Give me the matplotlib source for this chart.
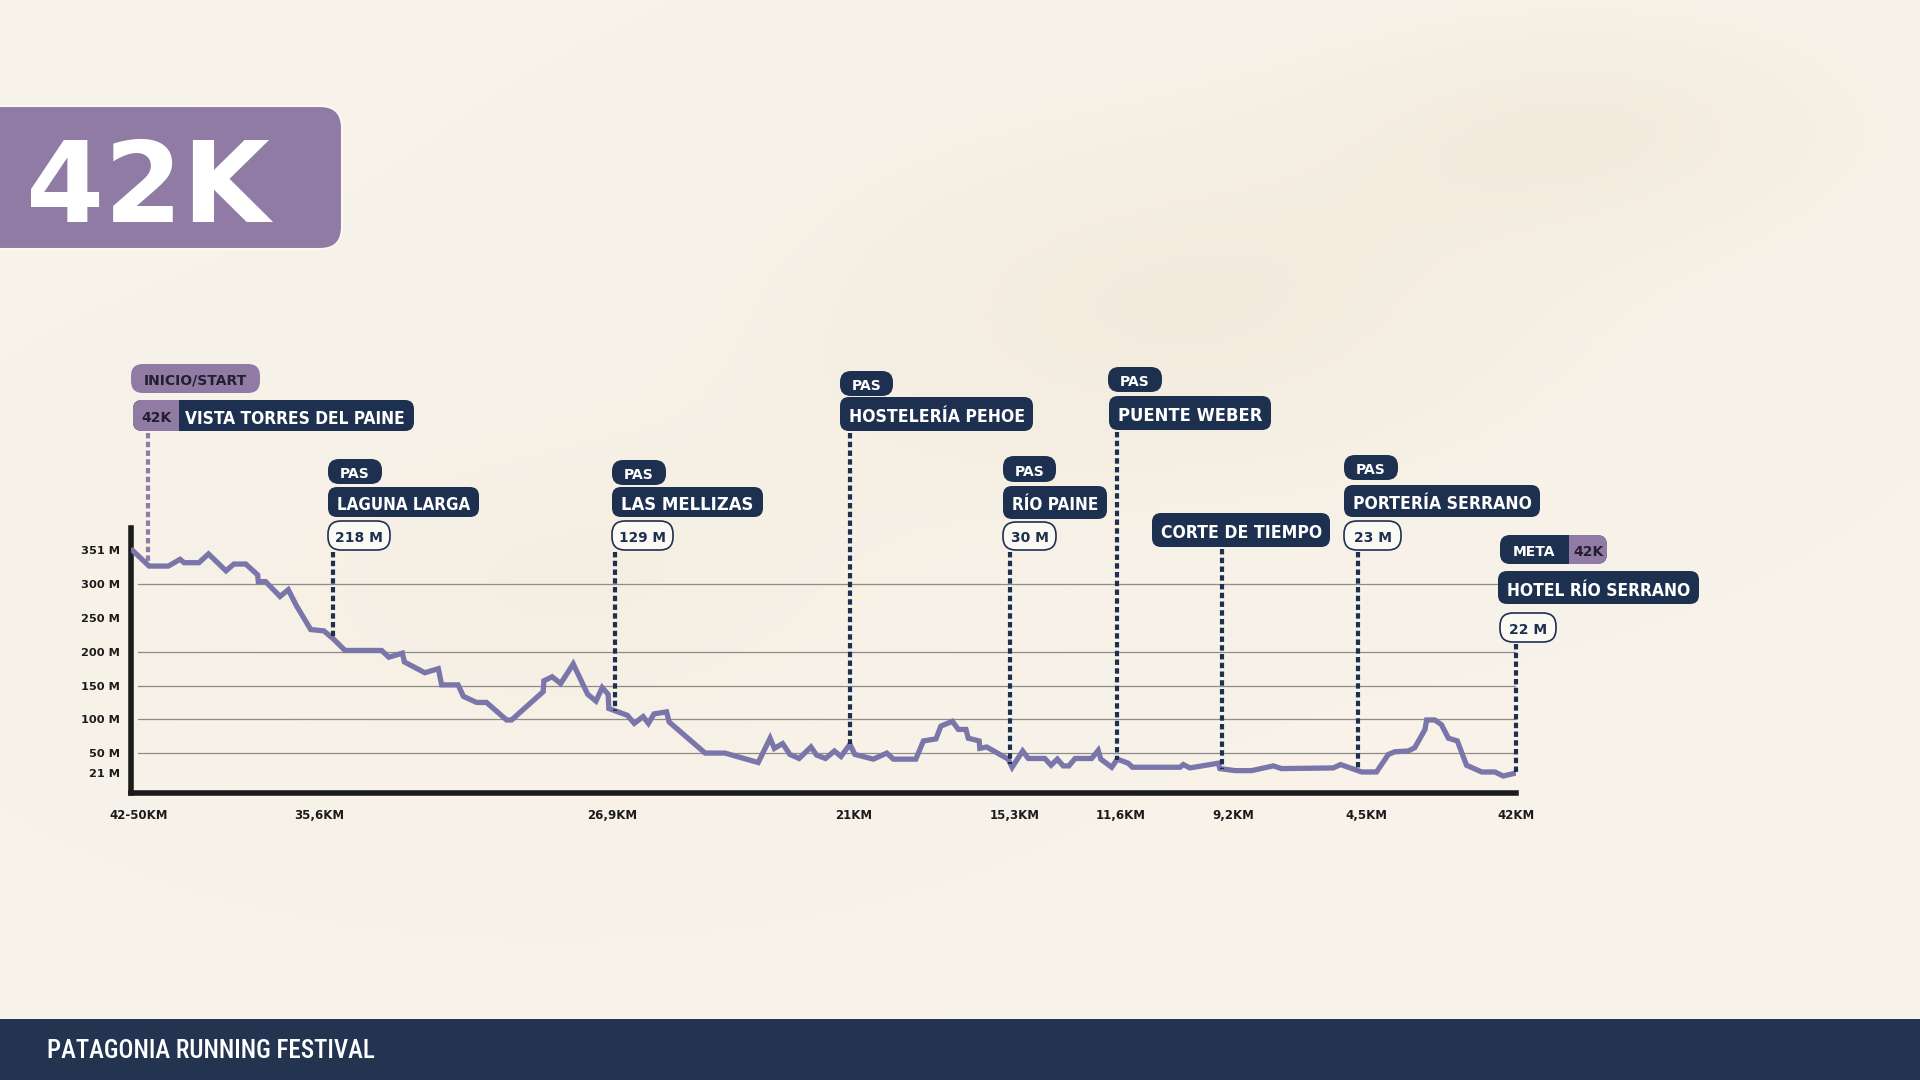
import os
import matplotlib
matplotlib.use("Agg")
import matplotlib.pyplot as plt
import numpy as np
from matplotlib import font_manager as fm
from matplotlib.patches import FancyBboxPatch, Rectangle

# elevation profile (km along course, metres)
km_pts = [0.05, 0.55, 1.13, 1.49, 1.61, 2.06, 2.35, 2.88, 3.12, 3.48,
          3.84, 3.86, 4.08, 4.52, 4.77, 5.02, 5.45, 5.85, 6.14, 6.49,
          7.60, 7.82, 8.23, 8.29, 8.91, 9.32, 9.42, 9.92, 10.08, 10.48,
          10.78, 11.39, 11.54, 12.50, 12.52, 12.77, 13.03, 13.41, 13.85, 14.10,
          14.29, 14.47, 14.49, 15.05, 15.26, 15.53, 15.69, 15.86, 16.24, 16.32,
          17.41, 18.01, 19.02, 19.38, 19.51, 19.76, 19.98, 20.26, 20.62, 20.79,
          21.06, 21.33, 21.53, 21.80, 21.95, 22.51, 22.92, 23.12, 23.80, 24.03,
          24.41, 24.56, 24.91, 25.09, 25.32, 25.39, 25.72, 25.74, 25.95, 26.60,
          26.72, 27.04, 27.21, 27.71, 27.90, 28.09, 28.27, 28.44, 28.63, 29.13,
          29.33, 29.41, 29.74, 29.91, 30.24, 30.37, 31.81, 31.91, 32.11, 32.97,
          33.02, 33.48, 33.98, 34.64, 34.89, 36.46, 36.68, 37.32, 37.77, 38.13,
          38.33, 38.73, 38.93, 39.24, 39.29, 39.54, 39.74, 39.95, 40.22, 40.50,
          40.96, 41.36, 41.61, 41.96]
elev = [350, 327, 327, 337, 332, 332, 345, 320, 330, 330,
        314, 304, 304, 282, 292, 268, 233, 231, 219, 202,
        202, 192, 198, 185, 169, 175, 151, 151, 134, 125,
        125, 99, 99, 141, 157, 163, 153, 182, 137, 127,
        147, 137, 116, 106, 94, 104, 94, 108, 111, 96,
        50, 50, 36, 72, 57, 64, 48, 42, 59, 47,
        42, 53, 45, 63, 48, 41, 50, 41, 41, 68,
        71, 90, 97, 85, 85, 72, 68, 57, 59, 41,
        29, 53, 42, 42, 32, 41, 31, 31, 42, 42,
        54, 41, 29, 41, 35, 29, 29, 33, 28, 35,
        27, 24, 24, 31, 27, 28, 33, 22, 22, 48,
        52, 53, 58, 85, 99, 99, 92, 72, 68, 32,
        22, 22, 16, 20]

ytick_vals = [21, 50, 100, 150, 200, 250, 300, 351]
ytick_labels = ["21 M", "50 M", "100 M", "150 M", "200 M", "250 M", "300 M", "351 M"]
grid_vals = [50, 100, 150, 200, 300]

xtick_km = [0.22, 5.72, 14.59, 21.91, 26.81, 30.0, 33.42, 37.46, 42.0]
xtick_labels = ["42-50KM", "35,6KM", "26,9KM", "21KM", "15,3KM", "11,6KM",
                "9,2KM", "4,5KM", "42KM"]

# checkpoints
cp_names = ["VISTA TORRES DEL PAINE", "LAGUNA LARGA", "LAS MELLIZAS",
            "HOSTELERÍA PEHOE", "RÍO PAINE", "PUENTE WEBER",
            "CORTE DE TIEMPO", "PORTERÍA SERRANO", "HOTEL RÍO SERRANO"]
cp_km = [0.52, 6.14, 14.69, 21.80, 26.67, 29.89, 33.08, 37.20, 42.0]
cp_tag = ["INICIO/START", "PAS", "PAS", "PAS", "PAS", "PAS", None, "PAS", "META"]
cp_alt = [None, "218 M", "129 M", None, "30 M", None, None, "23 M", "22 M"]

# pixel layout of the callouts: tag box, name box, altitude pill
layout = [
    ((131, 364, 129, 29), (133, 400, 281, 31), None),
    ((328, 459, 54, 25), (328, 487, 151, 30), (328, 521, 62, 29)),
    ((612, 460, 54, 25), (612, 487, 151, 30), (612, 521, 61, 29)),
    ((840, 371, 53, 25), (840, 397, 193, 34), None),
    ((1003, 456, 53, 26), (1003, 486, 104, 33), (1003, 522, 53, 28)),
    ((1108, 367, 54, 25), (1109, 396, 162, 34), None),
    (None, (1152, 513, 178, 34), None),
    ((1344, 455, 54, 25), (1344, 485, 196, 32), (1344, 521, 57, 29)),
    ((1500, 535, 107, 29), (1498, 571, 201, 33), (1500, 613, 56, 29)),
]

NAVY = "#1e3050"
PURPLE = "#8f7ba4"
LINE = "#7a76aa"
GRID = "#8e8c87"
BG = "#f5efe3"
DARK = "#231f30"
GEO = ["DejaVu Sans"]


def pick_condensed(bold=True):
    # look for an installed condensed / narrow latin face
    ok_fams = {"Noto Sans", "Liberation Sans Narrow", "Roboto Condensed", "DejaVu Sans",
               "Open Sans", "Open Sans Condensed", "Roboto", "Lato"}
    best, best_score = None, -99
    for f in fm.fontManager.ttflist:
        fn = os.path.basename(f.fname).lower()
        if f.name not in ok_fams:
            continue
        if not any(k in fn for k in ("condensed", "narrow", "compressed")):
            continue
        if "italic" in fn or "oblique" in fn:
            continue
        w = f.weight if isinstance(f.weight, int) else {"bold": 700, "normal": 400}.get(f.weight, 400)
        score = 0
        if "extracondensed" in fn or "ultracondensed" in fn:
            score += 3
        elif "semicondensed" in fn:
            score += 1
        else:
            score += 2
        if bold:
            score += {700: 6, 800: 5, 600: 4, 900: 3}.get(w, 0)
        else:
            score += {500: 6, 400: 5, 600: 4}.get(w, 0)
        if score > best_score:
            best, best_score = f.fname, score
    return best


cond_bold = pick_condensed(True)
cond_reg = pick_condensed(False)

W, H = 1920, 1080
fig = plt.figure(figsize=(19.2, 10.8), dpi=100)
fig.patch.set_facecolor(BG)

# soft paper background
bg_ax = fig.add_axes([0, 0, 1, 1], zorder=0)
bg_ax.axis("off")
yy, xx = np.mgrid[0:108, 0:192]
shade = (0.40 * np.exp(-(((xx - 118) / 42.0) ** 2 + ((yy - 30) / 20.0) ** 2))
         + 0.35 * np.exp(-(((xx - 160) / 28.0) ** 2 + ((yy - 12) / 12.0) ** 2))
         + 0.22 * np.exp(-(((xx - 55) / 40.0) ** 2 + ((yy - 58) / 20.0) ** 2)))
shade = np.clip(shade, 0, 1)[..., None]
c0 = np.array([0.973, 0.953, 0.918])
c1 = np.array([0.925, 0.882, 0.808])
bg_ax.imshow(c0 * (1 - shade) + c1 * shade, extent=(0, W, H, 0), aspect="auto",
             interpolation="bilinear")
bg_ax.set_xlim(0, W)
bg_ax.set_ylim(H, 0)

# chart
x0, x1, ytop, ybot = 131, 1516, 528, 792.7
ax = fig.add_axes([x0 / W, (H - ybot) / H, (x1 - x0) / W, (ybot - ytop) / H], zorder=1)
ax.patch.set_alpha(0)
ax.set_xlim(0, 42)
ax.set_ylim(-8.7, 383.4)
for g in grid_vals:
    ax.axhline(g, xmin=0.005, xmax=1, color=GRID, lw=0.9, zorder=1)
ax.plot(km_pts, elev, color=LINE, lw=3.8, zorder=4, solid_joinstyle="miter")
for s in ["top", "right"]:
    ax.spines[s].set_visible(False)
for s in ["left", "bottom"]:
    ax.spines[s].set_linewidth(4)
    ax.spines[s].set_color("#1b1b1b")
    ax.spines[s].set_capstyle("projecting")
ax.set_yticks(ytick_vals, ytick_labels)
ax.set_xticks(xtick_km, xtick_labels)
ax.tick_params(axis="y", length=0, pad=8, labelsize=8.2, labelcolor="#1c1c1c")
ax.tick_params(axis="x", length=0, pad=12, labelsize=8.5, labelcolor="#1c1c1c")
for t in ax.get_xticklabels() + ax.get_yticklabels():
    t.set_fontweight("bold")
    t.set_family(GEO)

# overlay in pixel coordinates
over = fig.add_axes([0, 0, 1, 1], zorder=2)
over.set_xlim(0, W)
over.set_ylim(H, 0)
over.axis("off")
renderer = fig.canvas.get_renderer()


def box(x, y, w, h, color, r=8, ec="none", lw=0, z=3):
    over.add_patch(FancyBboxPatch((x, y), w, h, boxstyle=f"round,pad=0,rounding_size={r}",
                                  fc=color, ec=ec, lw=lw, zorder=z))


def put(x, y, s, size, color, maxw, family=None, fname=None, ha="left", weight="bold", z=6):
    kw = dict(fontsize=size, color=color, ha=ha, va="center_baseline", zorder=z)
    if fname:
        kw["fontproperties"] = fm.FontProperties(fname=fname, size=size)
    else:
        kw["family"] = family
        kw["weight"] = weight
    t = over.text(x, y, s, **kw)
    w = t.get_window_extent(renderer).width
    if w > maxw:
        t.set_fontsize(size * maxw / w)
    return t


# title block
box(-40, 106, 382, 143, PURPLE, r=22, ec="#fbf8f2", lw=1.5)
put(148, 180, "42K", 81, "white", 258, GEO, ha="center")

# footer
over.add_patch(Rectangle((0, 1019), W, 61, fc="#22344f", ec="none", zorder=3))
put(47, 1049, "PATAGONIA RUNNING FESTIVAL", 18, "white", 365,
    family=["DejaVu Sans"], fname=cond_reg)

# callouts and markers
for i, name in enumerate(cp_names):
    tag_b, name_b, alt_b = layout[i]
    first, last = i == 0, i == len(cp_names) - 1
    if tag_b is not None:
        tx, ty, tw, th = tag_b
        if first:
            box(tx, ty, tw, th, PURPLE, r=12)
            put(tx + tw / 2, ty + th / 2 + 1, cp_tag[i], 10, DARK, tw - 18, GEO, ha="center")
        elif last:
            split = tx + 69
            box(tx, ty, tw, th, NAVY, r=10)
            box(split - 10, ty, tx + tw - split + 10, th, PURPLE, r=10, z=4)
            over.add_patch(Rectangle((split - 10, ty), 10, th, fc=NAVY, ec="none", zorder=4))
            put((tx + split) / 2, ty + th / 2 + 1, cp_tag[i], 10, "white", 50, GEO, ha="center")
            put((split + tx + tw) / 2, ty + th / 2 + 1, "42K", 10, DARK, 32, GEO, ha="center")
        else:
            box(tx, ty, tw, th, NAVY, r=11)
            put(tx + tw / 2, ty + th / 2 + 1, cp_tag[i], 10, "white", tw - 14, GEO, ha="center")

    nx, ny, nw, nh = name_b
    box(nx, ny, nw, nh, NAVY, r=9)
    text_x = nx + 9
    if first:
        box(nx, ny, 56, nh, PURPLE, r=9, z=4)
        over.add_patch(Rectangle((nx + 46, ny), 12, nh, fc=NAVY, ec="none", zorder=4))
        put(nx + 23, ny + nh / 2 + 1, "42K", 10, DARK, 34, GEO, ha="center")
        text_x = nx + 52
    put(text_x, ny + nh / 2 + 1, name, 19, "white", nx + nw - text_x - 9,
        family=["DejaVu Sans"], fname=cond_bold)
    bottom = ny + nh

    if alt_b is not None:
        ax_, ay, aw, ah = alt_b
        box(ax_, ay, aw, ah, "#fbf9f3", r=13, ec=NAVY, lw=1.2)
        put(ax_ + aw / 2, ay + ah / 2 + 1, cp_alt[i], 10, NAVY, aw - 14, GEO, ha="center")
        bottom = ay + ah

    # dotted leader from the callout down to the profile
    e = np.interp(cp_km[i], km_pts, elev)
    px, py = ax.transData.transform((cp_km[i], e))
    py = H - py
    col = PURPLE if first else NAVY
    dash = (0, (1.3, 0.8))
    over.plot([px, px], [bottom + 2, py], color=col, lw=3.0, linestyle=dash,
              dash_capstyle="butt", zorder=2)

fig.savefig("out.png", dpi=100, facecolor=fig.get_facecolor())
